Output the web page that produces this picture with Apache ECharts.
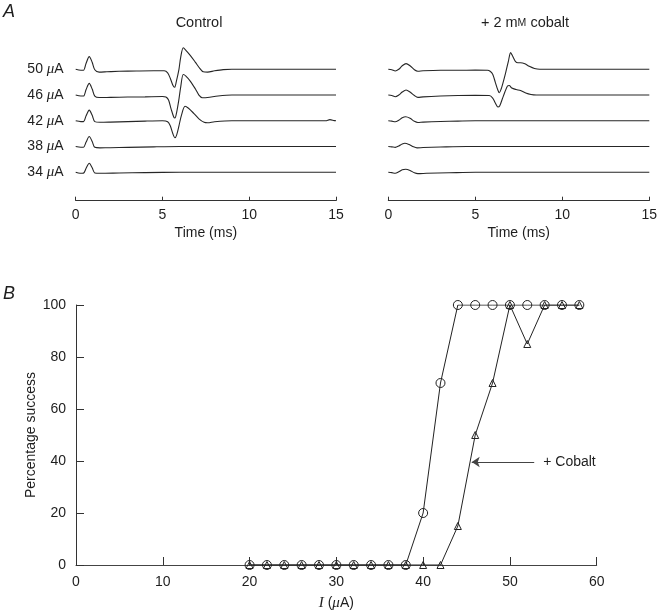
<!DOCTYPE html>
<html>
<head>
<meta charset="utf-8">
<script src="https://cdn.jsdelivr.net/npm/echarts@6/dist/echarts.min.js"></script>
<style>
html,body{margin:0;padding:0;background:#fff;}
#c{width:665px;height:614px;}
</style>
</head>
<body>
<div id="c"></div>
<script>
// ---------- Panel A: traces (time ms, deflection) ----------
const traceLabels = ['34', '38', '42', '46', '50'];   // bottom to top (µA)
const timeTicks = [0, 5, 10, 15];

const ctl34 = [[0,0],[0.25,-1],[0.45,-0.8],[0.6,4],[0.78,9],[0.95,4.5],[1.1,-0.6],[1.4,-1],[2.5,-0.7],[4,-0.3],[6,0],[15,0]];
const ctl38 = [[0,0],[0.3,-0.7],[0.45,-0.7],[0.6,4.5],[0.78,10],[0.95,5],[1.1,-0.8],[1.4,-1.3],[2,-1.2],[3,-0.8],[4.5,-0.3],[6,0],[15,0]];
const ctl42 = [[0,0],[0.3,-0.8],[0.45,-0.8],[0.6,5],[0.78,10.7],[0.95,5.5],[1.1,-0.8],[1.4,-1.5],[2,-1.3],[3,-0.8],[4,-0.3],[5,0],[5.3,-1],[5.45,-5],[5.6,-13],[5.72,-17],[5.82,-14],[5.95,-5],[6.1,6],[6.3,14.5],[6.5,12.5],[6.8,7.5],[7.1,2],[7.4,-1.5],[7.6,-2],[8,-1],[9,0],[14.4,0],[14.65,1.2],[14.9,0.2],[15,0]];
const ctl46 = [[0,0],[0.3,-1],[0.45,-1],[0.6,5.5],[0.78,11.7],[0.95,6],[1.1,-1],[1.35,-2.5],[2,-2.3],[3,-2],[4,-1.8],[5,-1.5],[5.2,-2],[5.35,-5],[5.5,-14],[5.65,-22],[5.72,-23],[5.82,-17],[5.95,-4],[6.05,8],[6.2,20.5],[6.35,19],[6.6,14],[6.9,6],[7.1,0],[7.3,-2.7],[7.6,-2.5],[8.2,-1],[9,0],[15,0]];
const ctl50 = [[0,0],[0.3,-1],[0.45,-1],[0.6,6],[0.78,12.7],[0.95,7],[1.1,-0.5],[1.35,-2.8],[1.8,-2.5],[2.5,-2],[3.5,-1.7],[4.5,-1.5],[5.1,-1.5],[5.3,-3.5],[5.45,-9],[5.6,-16],[5.7,-18],[5.8,-12],[5.95,0],[6.05,12],[6.2,21.5],[6.35,19],[6.6,14],[6.9,7],[7.15,1],[7.35,-2.5],[7.6,-2.8],[8,-1.5],[8.5,-0.3],[9,0],[15,0]];

const cob34 = [[0,0],[0.2,-0.3],[0.4,-1],[0.6,0.5],[0.8,2.5],[1.0,3],[1.25,1.8],[1.5,-0.5],[1.7,-1.3],[2.2,-1],[3.5,-0.5],[5,0],[15,0]];
const cob38 = [[0,0],[0.2,-0.3],[0.4,-0.8],[0.6,0.5],[0.8,2.5],[0.95,3.3],[1.2,2],[1.45,-0.3],[1.65,-1.3],[2,-1],[3,-0.5],[4.5,0],[15,0]];
const cob42 = [[0,0],[0.2,-0.3],[0.4,-1],[0.6,0.5],[0.8,3],[1.0,4],[1.25,2.5],[1.5,-0.5],[1.7,-1.7],[2,-1.3],[3,-0.7],[4,-0.3],[5,0],[15,0]];
const cob46 = [[0,0],[0.2,-0.5],[0.4,-1.7],[0.6,0],[0.8,3],[1.02,5],[1.25,3],[1.5,-0.5],[1.7,-2.3],[2,-1.8],[3,-1],[4,-0.5],[5,-0.3],[5.8,-0.5],[6.0,-3],[6.15,-8],[6.3,-12],[6.4,-11],[6.55,-4],[6.7,3],[6.85,9],[6.95,9.5],[7.1,7],[7.35,5.5],[7.6,4.5],[7.9,2],[8.2,0.5],[8.5,0],[15,0]];
const cob50 = [[0,0],[0.2,-0.5],[0.4,-1.7],[0.6,0],[0.8,3.5],[1.02,5.7],[1.25,3.5],[1.5,-0.5],[1.7,-2],[2,-1.5],[3,-1],[4,-1],[5,-0.8],[5.7,-1],[5.85,-2],[6.0,-5],[6.15,-13],[6.3,-21],[6.38,-23.5],[6.48,-20],[6.6,-13],[6.75,-3],[6.9,8],[7.03,16.7],[7.15,13],[7.3,8],[7.45,6.5],[7.6,6.5],[7.85,5.5],[8.1,3],[8.4,0.8],[8.7,0],[15,0]];

// ---------- Panel B: percentage success ----------
const currents = [20,22,24,26,28,30,32,34,36,38,40,42,44,46,48,50,52,54,56,58];
const controlPct = [0,0,0,0,0,0,0,0,0,0,20,70,100,100,100,100,100,100,100,100];
const cobaltPct  = [0,0,0,0,0,0,0,0,0,0,0,0,15,50,70,100,85,100,100,100];
const xTicksB = [0,10,20,30,40,50,60];
const yTicksB = [0,20,40,60,80,100];

// ---------- build ----------
const FONT = '"Liberation Sans", Arial, Helvetica, sans-serif';
const SERIF = '"Liberation Serif", "Times New Roman", serif';
const INK = '#1e1e1e';
const spacing = 25.75;
const offsets = traceLabels.map((_, i) => i * spacing);
const ctlTraces = [ctl34, ctl38, ctl42, ctl46, ctl50];
const cobTraces = [cob34, cob38, cob42, cob46, cob50];

const chart = echarts.init(document.getElementById('c'), null, {renderer: 'canvas'});

function traceSeries(traces, idx) {
  return traces.map((tr, i) => ({
    type: 'line', xAxisIndex: idx, yAxisIndex: idx,
    data: tr.map(p => [p[0], p[1] + offsets[i]]),
    symbol: 'none', smooth: 0.3, silent: true, animation: false,
    lineStyle: {color: '#262626', width: 1.1}
  }));
}

const xA = (idx) => ({
  type: 'value', gridIndex: idx, min: 0, max: 15, interval: 5,
  axisLine: {show: true, onZero: false, lineStyle: {color: '#333', width: 1}},
  axisTick: {show: true, inside: true, length: 4, lineStyle: {color: '#333'}},
  splitLine: {show: false},
  axisLabel: {color: INK, fontSize: 14, fontFamily: FONT, margin: 7},
  name: 'Time (ms)', nameLocation: 'middle', nameGap: 25, nameMoveOverlap: false,
  nameTextStyle: {color: INK, fontSize: 14, fontFamily: FONT}
});
const yA = (idx, showLabels) => ({
  type: 'value', gridIndex: idx, min: -28.4, max: 132.3,
  axisLine: {show: false}, axisTick: {show: false}, splitLine: {show: false},
  axisLabel: {
    show: showLabels, customValues: offsets, margin: 12,
    formatter: (v) => {
      const i = offsets.findIndex(o => Math.abs(o - v) < 0.01);
      return i >= 0 ? traceLabels[i] + ' {mu|\u03bc}A' : '';
    },
    color: INK, fontSize: 14, fontFamily: FONT,
    rich: {mu: {fontStyle: 'italic', fontFamily: SERIF, fontSize: 15, color: INK}}
  }
});

const option = {
  backgroundColor: '#fff',
  animation: false,
  grid: [
    {left: 75.7, top: 40, width: 260.3, height: 160.7},
    {left: 388.3, top: 40, width: 261, height: 160.7},
    {left: 76, top: 305, width: 520.7, height: 260}
  ],
  xAxis: [
    xA(0), xA(1),
    {
      type: 'value', gridIndex: 2, min: 0, max: 60, interval: 10,
      axisLine: {show: true, onZero: false, lineStyle: {color: '#444', width: 1}},
      axisTick: {show: true, inside: true, length: 8, lineStyle: {color: '#333'}},
      splitLine: {show: false},
      axisLabel: {color: INK, fontSize: 14, fontFamily: FONT, margin: 10},
      name: '{i|I} ({mu|\u03bc}A)', nameLocation: 'middle', nameGap: 31, nameMoveOverlap: false,
      nameTextStyle: {
        color: INK, fontSize: 14, fontFamily: FONT,
        rich: {
          i: {fontStyle: 'italic', fontFamily: SERIF, fontSize: 15, color: INK},
          mu: {fontStyle: 'italic', fontFamily: SERIF, fontSize: 15, color: INK}
        }
      }
    }
  ],
  yAxis: [
    yA(0, true), yA(1, false),
    {
      type: 'value', gridIndex: 2, min: 0, max: 100, interval: 20,
      axisLine: {show: true, onZero: false, lineStyle: {color: '#333', width: 1}},
      axisTick: {show: true, inside: true, length: 8, lineStyle: {color: '#333'}},
      splitLine: {show: false},
      axisLabel: {color: INK, fontSize: 14, fontFamily: FONT, margin: 10},
      name: 'Percentage success', nameLocation: 'middle', nameGap: 38, nameMoveOverlap: false,
      nameTextStyle: {color: INK, fontSize: 14, fontFamily: FONT}
    }
  ],
  series: [
    ...traceSeries(ctlTraces, 0),
    ...traceSeries(cobTraces, 1),
    {
      type: 'line', name: 'Control', xAxisIndex: 2, yAxisIndex: 2,
      data: currents.map((c, i) => [c, controlPct[i]]),
      symbol: 'circle', symbolSize: 9, animation: false,
      lineStyle: {color: '#222', width: 1},
      itemStyle: {color: 'rgba(255,255,255,0)', borderColor: '#222', borderWidth: 1}
    },
    {
      type: 'line', name: 'Cobalt', xAxisIndex: 2, yAxisIndex: 2,
      data: currents.map((c, i) => [c, cobaltPct[i]]),
      symbol: 'triangle', symbolSize: 7, animation: false,
      lineStyle: {color: '#222', width: 1},
      itemStyle: {color: 'rgba(255,255,255,0)', borderColor: '#222', borderWidth: 1},
      markLine: {
        silent: true, animation: false,
        symbol: ['none', 'arrow'], symbolSize: 8,
        lineStyle: {color: '#444', width: 1, type: 'solid'},
        itemStyle: {color: '#444'},
        label: {show: true, position: 'start', formatter: '+ Cobalt', distance: 9,
                color: INK, fontSize: 14, fontFamily: FONT},
        data: [[{coord: [52.8, 39.6]}, {coord: [45.6, 39.6]}]]
      }
    }
  ],
  graphic: [
    {type: 'text', x: 3, y: 12, style: {text: 'A', font: 'italic 18px ' + FONT, fill: INK, verticalAlign: 'middle'}},
    {type: 'text', x: 3, y: 294, style: {text: 'B', font: 'italic 18px ' + FONT, fill: INK, verticalAlign: 'middle'}},
    {type: 'text', x: 199, y: 23, style: {text: 'Control', font: '14.5px ' + FONT, fill: INK, align: 'center', verticalAlign: 'middle'}},
    {type: 'text', x: 525, y: 23, style: {
      text: '+ 2 m{sc|M} cobalt', font: '14.5px ' + FONT, fill: INK, align: 'center', verticalAlign: 'middle',
      rich: {sc: {fontSize: 10.5, fontFamily: FONT, fill: INK, verticalAlign: 'middle', padding: [1, 0, 0, 0]}}
    }}
  ]
};
chart.setOption(option);
</script>
</body>
</html>
